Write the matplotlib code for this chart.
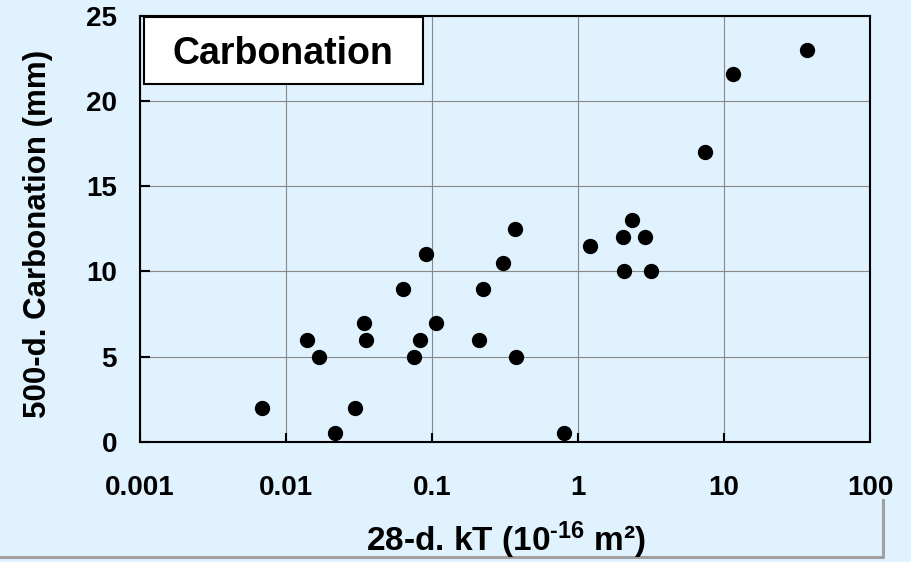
import numpy as np
import matplotlib
matplotlib.use("Agg")
import matplotlib.pyplot as plt
from matplotlib.patches import Rectangle
from matplotlib.lines import Line2D

# 28-day air permeability kT (1e-16 m2) vs. 500-day carbonation depth (mm)
kT_28d = [0.0069, 0.014, 0.0168, 0.0217, 0.0299, 0.0344, 0.0351, 0.063, 0.0757,
          0.0832, 0.091, 0.107, 0.210, 0.225, 0.305, 0.369, 0.376, 0.806,
          1.20, 2.03, 2.08, 2.34, 2.88, 3.15, 7.45, 11.6, 37.0]
carb_500d = [2, 6, 5, 0.5, 2, 7, 6, 9, 5,
             6, 11, 7, 6, 9, 10.5, 12.5, 5, 0.5,
             11.5, 12, 10, 13, 12, 10, 17, 21.6, 23]

x_ticks = [0.001, 0.01, 0.1, 1, 10, 100]
x_ticklabels = ["0.001", "0.01", "0.1", "1", "10", "100"]
y_ticks = [0, 5, 10, 15, 20, 25]

bg = "#e0f2fe"

plt.rcParams["font.family"] = ["Liberation Sans", "DejaVu Sans"]
plt.rcParams["font.weight"] = "bold"
plt.rcParams["mathtext.fontset"] = "custom"
plt.rcParams["mathtext.rm"] = "Liberation Sans:bold"
plt.rcParams["mathtext.bf"] = "Liberation Sans:bold"
plt.rcParams["mathtext.default"] = "rm"

fig = plt.figure(figsize=(9.12, 5.62), dpi=100, facecolor=bg)
ax = fig.add_axes([0.1535, 0.2135, 0.8004, 0.7586], facecolor=bg)

ax.plot(kT_28d, carb_500d, "o", color="black", markersize=10, zorder=3)

ax.set_xscale("log")
ax.set_xlim(0.001, 100)
ax.set_ylim(0, 25)
ax.set_xticks(x_ticks)
ax.set_xticklabels(x_ticklabels)
ax.set_yticks(y_ticks)
ax.xaxis.set_minor_locator(matplotlib.ticker.NullLocator())

ax.grid(True, color="#888888", linewidth=0.8, zorder=0)
ax.set_axisbelow(True)
for s in ax.spines.values():
    s.set_linewidth(1.5)
    s.set_color("black")

ax.tick_params(axis="x", direction="in", length=6.3, width=1.5, pad=23.5, labelsize=20)
ax.tick_params(axis="y", direction="in", length=7.2, width=1.5, pad=16.5, labelsize=20)

# title box in the upper left
ax.add_patch(Rectangle((0.0055, 0.8405), 0.3818, 0.1565, transform=ax.transAxes,
                       facecolor="white", edgecolor="black", linewidth=1.5, zorder=4))
ax.text(0.196, 0.8867, "Carbonation", transform=ax.transAxes, ha="center",
        va="baseline", fontsize=27, fontweight="bold", zorder=5)

fig.text(38 / 912, 0.5845, "500-d. Carbonation (mm)", rotation=90, ha="center",
         va="center", fontsize=22.5, fontweight="bold")
fig.text(506 / 912, 11 / 562, r"28-d. kT (10$^{\text{-16}}$ m²)", ha="center",
         va="baseline", fontsize=24, fontweight="bold")

# grey frame line along the bottom right
fig.add_artist(Line2D([0, 883.5 / 912, 883.5 / 912], [5 / 562, 5 / 562, 62 / 562],
                      color="#a0a0a0", linewidth=2.2, zorder=0))

fig.savefig("out.png", dpi=100, facecolor=bg)
